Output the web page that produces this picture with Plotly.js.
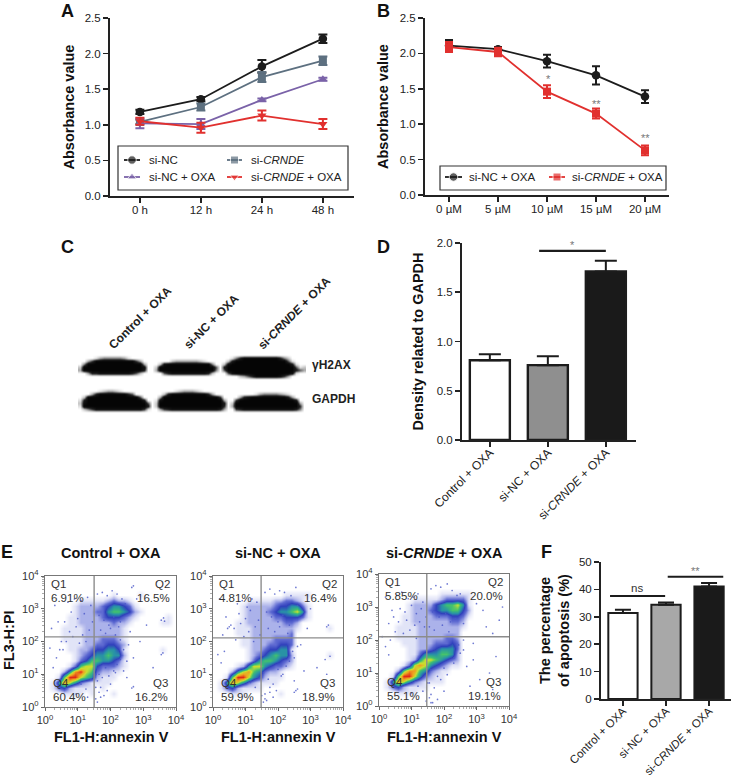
<!DOCTYPE html>
<html><head><meta charset="utf-8">
<script src="https://cdn.plot.ly/plotly-3.0.1.min.js"></script>
<style>html,body{margin:0;padding:0;background:#fff}#c{width:732px;height:776px}</style>
</head><body><div id="c"></div>
<script>
// ---------- data ----------
const timeLabels = ['0 h','12 h','24 h','48 h'];
const siNC = [1.18,1.36,1.82,2.21],        siNCErr = [0.03,0.03,0.09,0.06];
const siCRNDE = [1.04,1.25,1.67,1.90],     siCRNDEErr = [0.03,0.05,0.07,0.06];
const siNCOxa = [1.02,1.01,1.35,1.64],     siNCOxaErr = [0.07,0.07,0.02,0.02];
const siCRNDEOxa = [1.05,0.96,1.13,1.01],  siCRNDEOxaErr = [0.05,0.07,0.07,0.07];

const doseLabels = ['0 µM','5 µM','10 µM','15 µM','20 µM'];
const doseNC = [2.11,2.06,1.89,1.69,1.39],    doseNCErr = [0.08,0.03,0.09,0.13,0.09];
const doseCRNDE = [2.09,2.02,1.46,1.15,0.63], doseCRNDEErr = [0.07,0.06,0.09,0.07,0.07];

const groups = ['Control + OXA','si-NC + OXA','si-<i>CRNDE</i> + OXA'];
const density = [0.81,0.76,1.71],  densityErr = [0.06,0.09,0.11];
const apoptosis = [31.4,34.4,41.1], apoptosisErr = [1.2,0.8,1.2];

const quadLabels = ['Q1','Q2','Q3','Q4'];
const quadControl = ['6.91%','16.5%','16.2%','60.4%'];
const quadNC = ['4.81%','16.4%','18.9%','59.9%'];
const quadCRNDE = ['5.85%','20.0%','19.1%','55.1%'];

// flow density grids, read by eye: top row first, 6 cells per decade, level 0-9
const flowControl = [
'000000000000000000000000',
'000000000000000000000000',
'000000000000000000000000',
'000000000000100001000000',
'000000111112322100000000',
'000001222234554310000000',
'000001222335665421000000',
'000011222234443210000010',
'000011222222322100000110',
'000111122222221000000000',
'000111122222221000000000',
'000111122233321000000000',
'000011122334432000000000',
'000011223445541000000100',
'000001234556552000000000',
'000001346655431000000000',
'000013677433321000000000',
'000258976322110000000000',
'001699765211100000000000',
'015875321111000000000000',
'013421111010000000000000',
'000111101000100000000000',
'000000000000000000000000',
'000000000000000000000000'];
const flowNC = [
'000000000000000000000000',
'000000000000000000000000',
'000000000000000000000000',
'000000000000011111000000',
'000000111112233210000000',
'000001222223445531000000',
'000001222234556751000000',
'000001222223344431000000',
'000011222222233200000000',
'000011122222222100000100',
'000011122222223000000000',
'000001122223333000000000',
'000001122233443000000000',
'000000122344551000000000',
'000000123456552000000100',
'000000135665432000000000',
'000012577543321000000000',
'000257865322100000000000',
'001699754211100000000000',
'015875321111000000000000',
'013421111000000000000000',
'000111000000100000000000',
'000000000000000000000000',
'000000000000000000000000'];
const flowCRNDE = [
'000000000000000000000000',
'000000000000000000000000',
'000000000000000000000000',
'000000000001111110000000',
'000000111112333310000000',
'000001222245667510000000',
'000001222345566420000000',
'000011222233344310000000',
'000011222222233200000000',
'000111122222222100000000',
'000111122222222000000000',
'000111122222332000000000',
'000011122233343000000000',
'000001122345553000000000',
'000001135556652000000000',
'000001257765432000000000',
'000013787543211000000000',
'000268865321100000000000',
'001699753211000000000000',
'015875321111000000000000',
'013421111000000000000000',
'000111100000000000000000',
'000000000000000000000000',
'000000000000000000000000'];
// gate positions (decades)
const gateControl = [1.50,2.14], gateNC = [1.48,2.11], gateCRNDE = [1.47,2.10];
// individual events picked out around the populations (decades)
const eventsControlX = [2.65,2.70,3.55,3.62,3.65,2.70,2.65,3.6,3.55,2.7,2.4,2.9,3.1,2.5,3.3,2.8,0.2,0.3,0.5,2.6,
 0.7,0.9,1.1,1.3,1.4,0.8,1.0,1.2,1.45,0.6,0.75,0.95,1.15,1.35,0.65,0.85,1.05,1.25,0.55,1.6,1.75,1.9,2.05,2.2,2.35,2.45,1.65,1.8,1.95,2.1,2.3,1.7,1.85,2.0,2.15,2.25,1.55,1.6,1.7,1.85,1.95,2.1,2.2,1.65,1.75,2.0,2.15,2.3,1.55,1.9,
 0.35,0.45,0.25,1.1,1.25,1.4,0.95,1.3,1.6,1.7,1.8,1.55,1.5,1.65,2.4,2.55,2.3,2.5,0.4,0.15];
const eventsControlY = [3.65,3.70,2.65,2.72,2.62,0.62,0.58,1.65,1.60,1.5,1.1,2.0,2.5,0.9,1.2,3.3,2.4,3.1,2.0,2.3,
 3.2,3.3,3.25,3.35,3.1,2.9,2.7,2.85,2.6,2.6,2.3,2.45,2.2,2.35,2.0,2.15,1.95,2.0,1.75,3.45,3.5,3.4,3.55,3.45,3.3,3.15,2.8,2.65,2.5,2.75,2.6,2.35,2.25,2.4,2.2,2.45,1.0,0.8,0.6,1.2,0.95,1.1,1.3,0.45,0.9,0.7,1.05,1.45,0.25,0.5,
 1.5,1.75,1.2,0.7,0.55,0.85,0.4,0.3,0.15,0.3,0.35,0.6,1.15,1.0,1.75,1.9,2.05,1.4,2.6,1.8];
const eventsNCX = [3.50,3.55,3.45,3.60,2.55,2.60,2.50,0.50,0.55,0.45,3.5,2.7,2.9,3.2,2.6,2.8,0.2,0.3,3.0,2.5,
 0.75,0.9,1.05,1.2,1.35,0.8,1.0,1.15,1.4,0.65,0.85,1.1,1.3,1.45,0.7,0.95,1.25,1.6,1.75,1.9,2.05,2.2,2.4,2.55,1.65,1.8,2.0,2.15,2.35,1.7,1.9,2.05,2.3,1.55,1.7,1.85,2.0,2.1,2.25,1.6,1.75,1.95,2.15,2.35,1.6,1.85,
 0.35,0.25,0.15,1.15,1.3,1.45,1.5,1.55,1.65,1.75,2.45,2.6,2.5,0.4];
const eventsNCY = [2.45,2.50,1.45,1.55,0.50,0.55,0.45,2.45,2.50,2.40,1.0,1.9,2.4,1.2,3.1,1.1,3.3,2.2,3.0,0.8,
 3.15,3.25,3.05,3.3,3.2,2.85,2.7,2.95,2.65,2.4,2.55,2.3,2.45,2.2,2.05,2.15,2.0,3.5,3.6,3.45,3.55,3.5,3.4,3.65,2.9,2.75,2.6,2.8,2.5,2.4,2.3,2.45,2.25,1.05,0.85,0.7,1.15,0.95,1.25,0.4,0.6,0.5,1.0,1.4,0.25,0.3,
 1.7,1.35,1.6,0.75,0.6,0.9,0.35,0.15,0.2,0.45,1.7,1.85,1.5,2.75];
const eventsCRNDEX = [3.7,3.5,3.2,2.9,2.7,3.4,3.1,2.8,3.6,2.6,2.5,3.0,0.2,0.3,0.1,3.8,3.3,2.9,3.5,2.6,
 0.55,0.7,0.9,1.05,1.2,1.35,0.65,0.8,1.0,1.15,1.3,1.45,0.45,0.6,0.85,1.1,1.25,1.4,0.5,0.75,0.95,1.15,1.6,1.75,1.9,2.1,2.25,2.4,1.65,1.85,2.05,2.2,2.35,1.55,1.7,1.95,2.15,1.6,1.8,2.0,2.3,1.55,1.7,1.9,2.1,2.3,1.6,1.8,2.0,1.65,
 0.3,0.35,0.2,1.2,1.35,1.5,1.55,1.6,1.0,1.45,2.45,2.5,2.6,0.4];
const eventsCRNDEY = [2.6,2.2,2.9,1.4,1.2,1.0,0.8,0.6,1.5,2.5,3.4,3.1,3.3,2.5,2.1,3.0,2.4,1.9,0.5,1.7,
 3.35,3.45,3.25,3.3,3.4,3.15,2.95,2.85,3.05,2.8,2.95,2.7,2.7,2.55,2.6,2.45,2.55,2.4,2.25,2.2,2.3,2.05,3.55,3.65,3.6,3.7,3.5,3.35,2.85,2.7,2.8,2.55,2.65,2.4,2.3,2.45,2.25,1.1,0.9,1.15,1.3,0.7,0.55,0.8,0.95,1.45,0.35,0.2,0.45,0.1,
 1.55,2.0,1.8,0.6,0.45,0.7,0.25,0.1,0.4,0.15,1.85,1.6,2.0,2.9];

// western blot band intensity, read by eye: top row first, level 0-9
const blot = [
'',
'00001344444310000'+'00'+'0000000000000000'+'0'+'00147999999999742000'+'0',
'00369999999999630'+'00'+'0000233333321000'+'0'+'02799999999999995100'+'0',
'04999999999999993'+'00'+'0289999999999940'+'0'+'28999999999999999710'+'0',
'29999999999999998'+'00'+'2999999999999995'+'0'+'79999999999999999951'+'2',
'39999999999999997'+'00'+'3999999999999994'+'0'+'59999999999999999975'+'3',
'00377888888887520'+'00'+'0057888888888720'+'0'+'05899999999999999810'+'0',
'00000000000000000'+'00'+'0000000000000000'+'0'+'00002357999999863000'+'0',
'','','','',
'000001233210000000'+'0'+'000001233321000000'+'0'+'000000000000000000'+'0',
'000379999999750000'+'0'+'002799999999973000'+'0'+'000000134444321000'+'0',
'029999999999999500'+'0'+'039999999999999960'+'0'+'003789999999997300'+'0',
'179999999999999970'+'0'+'189999999999999993'+'0'+'069999999999999970'+'0',
'289999999999999995'+'0'+'299999999999999997'+'0'+'299999999999999993'+'0',
'199999999999999997'+'0'+'299999999999999996'+'0'+'399999999999999996'+'0',
'024688888888888861'+'0'+'036788888888888873'+'0'+'067888888888888874'+'0',
''];

// ---------- styles ----------
const FONT = 'Liberation Sans, Arial, sans-serif';
const INK = '#222222';
const BLACK='#1c1c1c', SLATE='#5d7080', PURPLE='#7a62a8', RED='#e1302e';
const W=732,H=776;
const dx=(a,b)=>[a/W,b/W], dy=(t,b)=>[1-b/H,1-t/H];
const parse=s=>s.split('').map(Number);

function valAxis(dom,range,dtick,fmt,title,standoff,anchor){
  return {domain:dom,range,dtick,tickformat:fmt,anchor,showgrid:false,zeroline:false,showline:true,
    linewidth:2,linecolor:INK,ticks:'outside',ticklen:5,tickwidth:1.6,tickcolor:INK,
    tickfont:{family:FONT,size:11.5,color:INK},
    title:{text:title,standoff,font:{family:FONT,size:14.5,color:'#111',weight:'bold'}}};
}
function catAxis(dom,range,vals,text,anchor,angle,size,off){
  return {domain:dom,range,tickmode:'array',tickvals:vals,ticktext:text,anchor,tickangle:angle,ticklabelstandoff:off,
    showgrid:false,zeroline:false,showline:true,linewidth:2,linecolor:INK,ticks:'outside',ticklen:5,tickwidth:1.6,tickcolor:INK,
    tickfont:{family:FONT,size:size,color:INK}};
}
const minorDec=[];[0,1,2,3].forEach(d=>[2,3,4,5,6,7,8,9].forEach(m=>minorDec.push(d+Math.log10(m))));
function flowAxis(dom,anchor){
  return {domain:dom,range:[0,4],anchor,tickmode:'array',tickvals:[0,1,2,3,4],
    ticktext:[0,1,2,3,4].map(p=>'10<sup>'+p+'</sup>'),mirror:true,showline:true,linewidth:1.2,linecolor:'#777',
    showgrid:false,zeroline:false,ticks:'outside',ticklen:3,tickwidth:1,tickcolor:'#666',
    minor:{tickmode:'array',tickvals:minorDec,ticks:'outside',ticklen:1.5,tickwidth:0.7,tickcolor:'#888'},
    tickfont:{family:FONT,size:11,color:'#333'}};
}
function lineTrace(x,y,err,name,color,symbol,size,xa,ya,capw){
  return {type:'scatter',mode:'lines+markers',x,y,name,xaxis:xa,yaxis:ya,showlegend:false,
    line:{color,width:1.8},marker:{color,symbol,size},
    error_y:{type:'data',array:err,visible:true,color,thickness:2,width:capw}};
}
function barTrace(y,err,colors,xa,ya,capw,lw,wd){
  return {type:'bar',x:[0,1,2],y,width:wd,xaxis:xa,yaxis:ya,showlegend:false,
    marker:{color:colors,line:{color:BLACK,width:lw}},
    error_y:{type:'data',array:err,symmetric:false,arrayminus:[0,0,0],visible:true,color:BLACK,thickness:2,width:capw}};
}
const idx=a=>a.map((_,i)=>i);

const traces=[
  lineTrace(idx(timeLabels),siNC,siNCErr,'si-NC',BLACK,'circle',8.5,'x','y',4.5),
  lineTrace(idx(timeLabels),siCRNDE,siCRNDEErr,'si-CRNDE',SLATE,'square',8,'x','y',4.5),
  lineTrace(idx(timeLabels),siNCOxa,siNCOxaErr,'si-NC + OXA',PURPLE,'triangle-up',8,'x','y',4.5),
  lineTrace(idx(timeLabels),siCRNDEOxa,siCRNDEOxaErr,'si-CRNDE + OXA',RED,'triangle-down',8,'x','y',4.5),
  lineTrace(idx(doseLabels),doseNC,doseNCErr,'si-NC + OXA',BLACK,'circle',8.5,'x2','y2',4),
  lineTrace(idx(doseLabels),doseCRNDE,doseCRNDEErr,'si-CRNDE + OXA',RED,'square',8,'x2','y2',4),
  barTrace(density,densityErr,['#ffffff','#8f8f8f','#1a1a1a'],'x3','y3',11,2.4,0.69),
  barTrace(apoptosis,apoptosisErr,['#ffffff','#a8a8a8','#1a1a1a'],'x4','y4',8,2,0.68)
];

const flowScale=[[0,'#ffffff'],[0.11,'#e2e4f7'],[0.22,'#adb3ea'],[0.33,'#5f6bd2'],[0.44,'#3040bc'],
  [0.55,'#2890a8'],[0.66,'#40c070'],[0.77,'#c8e030'],[0.88,'#f0a020'],[1,'#e02818']];
[[flowControl,gateControl,eventsControlX,eventsControlY,'x5','y5'],
 [flowNC,gateNC,eventsNCX,eventsNCY,'x6','y6'],
 [flowCRNDE,gateCRNDE,eventsCRNDEX,eventsCRNDEY,'x7','y7']].forEach(([g,gate,ex,ey,xa,ya])=>{
  traces.push({type:'heatmap',z:g.slice().reverse().map(parse),x0:1/12,dx:1/6,y0:1/12,dy:1/6,zmin:0,zmax:9,
    zsmooth:'best',colorscale:flowScale,showscale:false,xaxis:xa,yaxis:ya,hoverinfo:'skip'});
  traces.push({type:'scatter',mode:'markers',x:ex,y:ey,xaxis:xa,yaxis:ya,showlegend:false,
    marker:{color:'#4a58c8',size:1.7,opacity:0.8}});
  traces.push({type:'scatter',mode:'lines',x:[gate[0],gate[0]],y:[0,4],xaxis:xa,yaxis:ya,showlegend:false,line:{color:'#8c8c8c',width:1.4}});
  traces.push({type:'scatter',mode:'lines',x:[0,4],y:[gate[1],gate[1]],xaxis:xa,yaxis:ya,showlegend:false,line:{color:'#8c8c8c',width:1.4}});
});

traces.push({type:'heatmap',z:blot.map(s=>parse(s.padEnd(57,'0'))),x0:80,dx:4,y0:355,dy:3,zmin:0,zmax:9,zsmooth:'best',
  colorscale:[[0,'#ffffff'],[0.3,'#b0b0b0'],[0.7,'#202020'],[1,'#050505']],showscale:false,xaxis:'x8',yaxis:'y8',hoverinfo:'skip'});

// legend keys on the page-pixel axes
function key(x0,x1,yy,color,symbol,size){
  traces.push({type:'scatter',mode:'lines+markers',x:[x0,(x0+x1)/2,x1],y:[yy,yy,yy],xaxis:'x8',yaxis:'y8',showlegend:false,
    line:{color,width:1.8},marker:{color,symbol,size:[0,size,0]},hoverinfo:'skip'});
}
key(124,140,160,BLACK,'circle',8.5);
key(227,242,160,SLATE,'square',8);
key(124,140,177,PURPLE,'triangle-up',8);
key(227,242,177,RED,'triangle-down',8);
key(445,462,177,BLACK,'circle',8.5);
key(549,565,177,RED,'square',8);

const notes=[];
function note(x,y,text,o){o=o||{};
  notes.push({x,y,xref:'x8',yref:'y8',text,showarrow:false,xanchor:o.a||'center',yanchor:'middle',
    textangle:o.r||0,font:{family:FONT,size:o.s||11.5,color:o.c||INK,weight:o.b?'bold':'normal'}});
}
note(67,11,'A',{s:18,b:1,c:'#111'}); note(383,11,'B',{s:18,b:1,c:'#111'});
note(67,247,'C',{s:18,b:1,c:'#111'}); note(383,247,'D',{s:18,b:1,c:'#111'});
note(7,552,'E',{s:18,b:1,c:'#111'}); note(546,552,'F',{s:18,b:1,c:'#111'});
// legends
note(147,160,'si-NC',{a:'left'}); note(249,160,'si-<i>CRNDE</i>',{a:'left'});
note(147,177,'si-NC + OXA',{a:'left'}); note(249,177,'si-<i>CRNDE</i> + OXA',{a:'left'});
note(467,177,'si-NC + OXA',{a:'left'}); note(570,177,'si-<i>CRNDE</i> + OXA',{a:'left'});
// significance marks
note(548,79,'*',{s:11,c:'#777'}); note(596,104,'**',{s:11,c:'#777'}); note(645,138,'**',{s:11,c:'#777'});
note(572,245,'*',{s:11,c:'#777'}); note(637,588,'ns',{s:11.5,c:'#333'}); note(695,571,'**',{s:11,c:'#777'});
// blot labels
note(140,318,'Control + OXA',{r:-45,s:12,b:1}); note(211,322,'si-NC + OXA',{r:-45,s:12,b:1});
note(294.5,313,'si-<i>CRNDE</i> + OXA',{r:-45,s:12,b:1});
note(331,365,'γH2AX',{s:12,b:1}); note(333,399,'GAPDH',{s:12,b:1});
// flow titles
note(111,553,'Control + OXA',{s:14.5,b:1,c:'#111'}); note(278,553,'si-NC + OXA',{s:14.5,b:1,c:'#111'});
note(444,553,'si-<i>CRNDE</i> + OXA',{s:14.5,b:1,c:'#111'});
note(111,737,'FL1-H:annexin V',{s:14.5,b:1,c:'#111'}); note(278,737,'FL1-H:annexin V',{s:14.5,b:1,c:'#111'});
note(444,737,'FL1-H:annexin V',{s:14.5,b:1,c:'#111'});
note(9,640,'FL3-H:PI',{s:14.5,b:1,r:-90,c:'#111'});
[[45,176,576,707,quadControl],[213,343,576,707,quadNC],[379,509,574,706,quadCRNDE]].forEach(([l,r,t,b,q])=>{
  note(l+4,t+8,quadLabels[0],{a:'left',c:'#333'}); note(l+4,t+22,q[0],{a:'left',c:'#333'});
  note(r-4,t+8,quadLabels[1],{a:'right',c:'#333'}); note(r-4,t+22,q[1],{a:'right',c:'#333'});
  note(r-6,b-24,quadLabels[2],{a:'right',c:'#333'}); note(r-6,b-10,q[2],{a:'right',c:'#333'});
  note(l+6,b-24,quadLabels[3],{a:'left',c:'#333'}); note(l+6,b-10,q[3],{a:'left',c:'#333'});
});

const shapes=[
 {type:'rect',xref:'x8',yref:'y8',x0:118,x1:348,y0:146,y1:190,line:{color:'#333',width:1.2}},
 {type:'rect',xref:'x8',yref:'y8',x0:440,x1:666,y0:166,y1:190,line:{color:'#333',width:1.2}},
 {type:'line',xref:'x3',yref:'y3',x0:0.85,x1:2,y0:1.92,y1:1.92,line:{color:BLACK,width:2.2}},
 {type:'line',xref:'x4',yref:'y4',x0:-0.3,x1:0.98,y0:37.6,y1:37.6,line:{color:BLACK,width:2}},
 {type:'line',xref:'x4',yref:'y4',x0:1.04,x1:2.33,y0:44.6,y1:44.6,line:{color:BLACK,width:2}}
];

const layout={width:W,height:H,margin:{l:0,r:0,t:0,b:0},paper_bgcolor:'#fff',plot_bgcolor:'rgba(0,0,0,0)',showlegend:false,
 font:{family:FONT},shapes,annotations:notes,
 xaxis:catAxis(dx(110,354),[-0.49,3.51],idx(timeLabels),timeLabels,'y',0,11.5,-3),
 yaxis:valAxis(dy(18,196),[0,2.5],0.5,'.1f','Absorbance value',7,'x'),
 xaxis2:catAxis(dx(425,669),[-0.49,4.49],idx(doseLabels),doseLabels,'y2',0,11.5,-3),
 yaxis2:valAxis(dy(18,195),[0,2.5],0.5,'.1f','Absorbance value',8,'x2'),
 xaxis3:catAxis(dx(462,636),[-0.48,2.52],idx(groups),groups,'y3',-45,12,-6),
 yaxis3:valAxis(dy(243,440),[0,2],0.5,'.1f','Density related to GAPDH',10,'x3'),
 xaxis4:catAxis(dx(601,731),[-0.51,2.51],idx(groups),groups,'y4',-45,11.5,-6),
 yaxis4:valAxis(dy(562,699),[0,50],10,'d','The percentage<br>of apoptosis (%)',6,'x4'),
 xaxis5:flowAxis(dx(45,176),'y5'),yaxis5:flowAxis(dy(576,707),'x5'),
 xaxis6:flowAxis(dx(213,343),'y6'),yaxis6:flowAxis(dy(576,707),'x6'),
 xaxis7:flowAxis(dx(379,509),'y7'),yaxis7:flowAxis(dy(574,706),'x7'),
 xaxis8:{domain:[0,1],range:[0,W],visible:false,anchor:'y8',fixedrange:true},
 yaxis8:{domain:[0,1],range:[H,0],visible:false,anchor:'x8',fixedrange:true}
};
Plotly.newPlot('c',traces,layout,{staticPlot:true,displayModeBar:false});
</script></body></html>
